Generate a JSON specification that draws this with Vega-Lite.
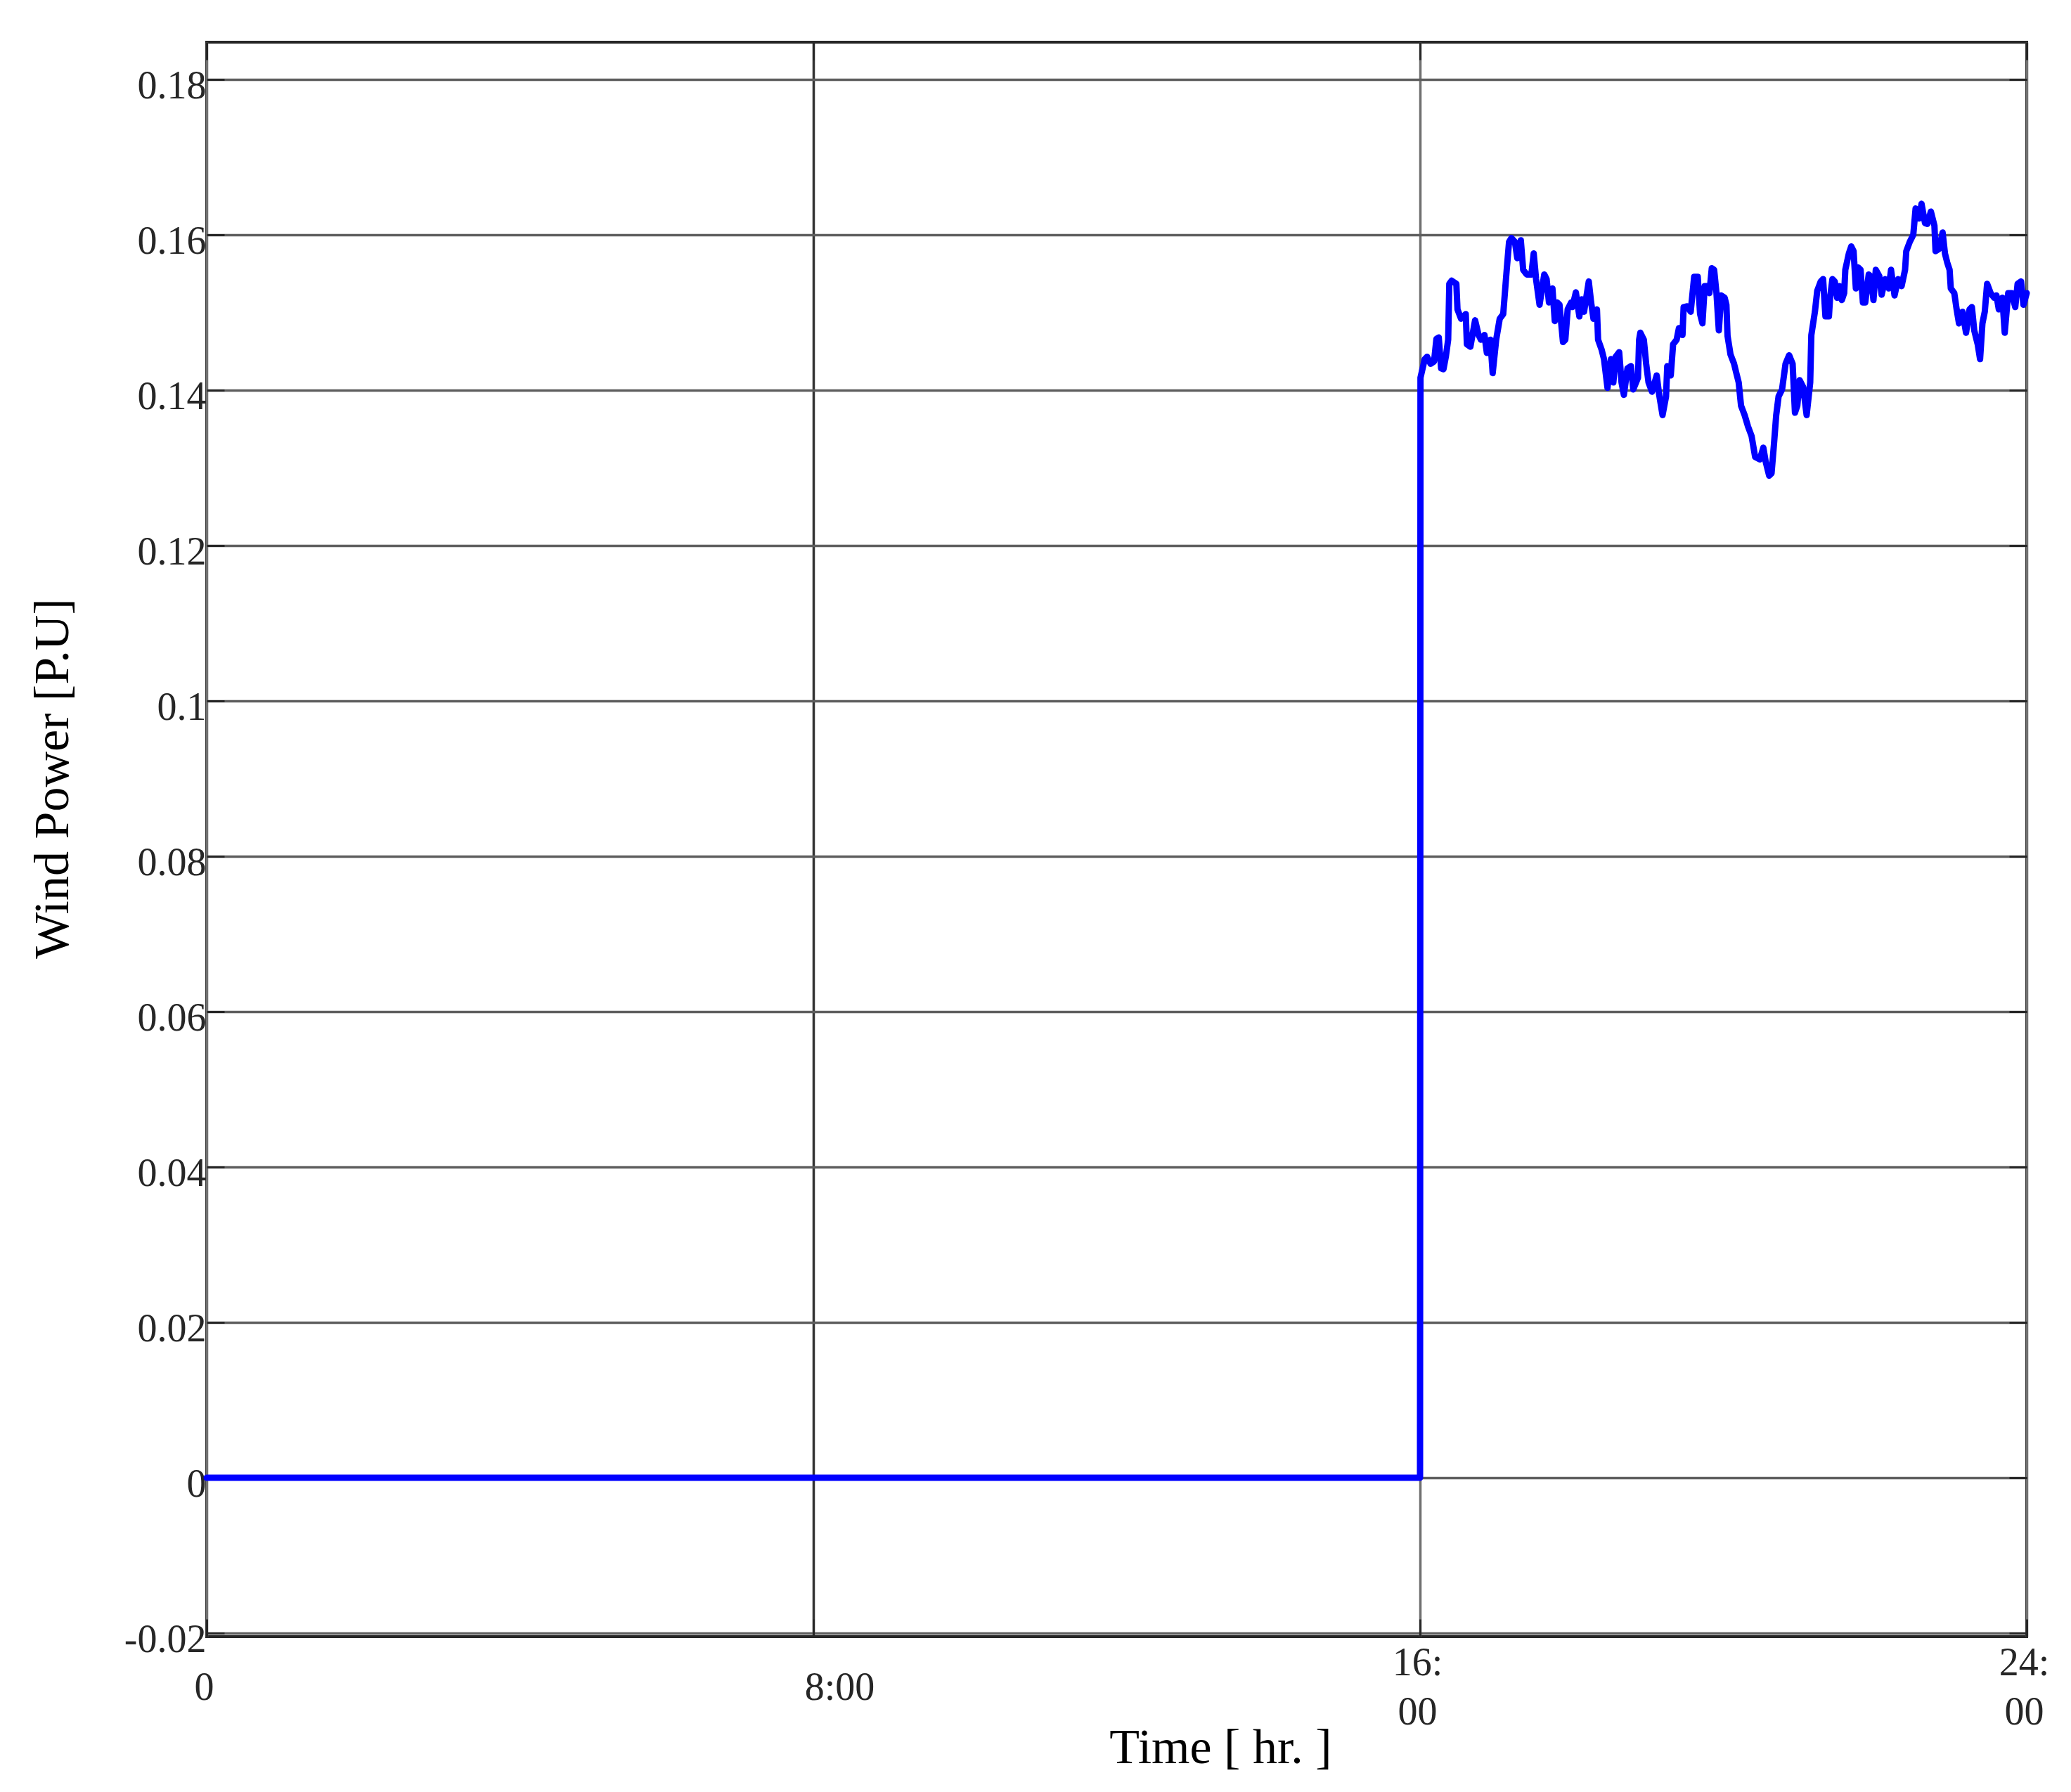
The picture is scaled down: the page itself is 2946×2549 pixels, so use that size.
{
  "$schema": "https://vega.github.io/schema/vega-lite/v6.json",
  "autosize": {"type": "none"},
  "width": 2589,
  "height": 2268,
  "padding": {"left": 294, "top": 60, "right": 63, "bottom": 221},
  "background": "white",
  "config": {"view": {"stroke": "#262626", "strokeWidth": 4}, "font": "Liberation Serif"},
  "data": {"values": [
    {"t": 0, "p": 0}, {"t": 16, "p": 0}, {"t": 16.006, "p": 0.1416},
    {"t": 16.062, "p": 0.1440}, {"t": 16.093, "p": 0.1443}, {"t": 16.139, "p": 0.1434}, {"t": 16.185, "p": 0.1437},
    {"t": 16.216, "p": 0.1466}, {"t": 16.247, "p": 0.1468}, {"t": 16.278, "p": 0.1428}, {"t": 16.309, "p": 0.1427},
    {"t": 16.340, "p": 0.1443}, {"t": 16.371, "p": 0.1465}, {"t": 16.386, "p": 0.1537}, {"t": 16.417, "p": 0.1541},
    {"t": 16.479, "p": 0.1537}, {"t": 16.494, "p": 0.1504}, {"t": 16.541, "p": 0.1492}, {"t": 16.603, "p": 0.1498},
    {"t": 16.618, "p": 0.1459}, {"t": 16.664, "p": 0.1456}, {"t": 16.726, "p": 0.1490}, {"t": 16.772, "p": 0.1471},
    {"t": 16.803, "p": 0.1465}, {"t": 16.850, "p": 0.1471}, {"t": 16.881, "p": 0.1448}, {"t": 16.927, "p": 0.1465},
    {"t": 16.958, "p": 0.1422}, {"t": 17.004, "p": 0.1465}, {"t": 17.051, "p": 0.1492}, {"t": 17.097, "p": 0.1498},
    {"t": 17.143, "p": 0.1555}, {"t": 17.174, "p": 0.1591}, {"t": 17.205, "p": 0.1596}, {"t": 17.251, "p": 0.1591},
    {"t": 17.282, "p": 0.1570}, {"t": 17.329, "p": 0.1593}, {"t": 17.360, "p": 0.1555}, {"t": 17.406, "p": 0.1549},
    {"t": 17.468, "p": 0.1549}, {"t": 17.499, "p": 0.1576}, {"t": 17.530, "p": 0.1543}, {"t": 17.576, "p": 0.1510},
    {"t": 17.638, "p": 0.1549}, {"t": 17.669, "p": 0.1543}, {"t": 17.700, "p": 0.1513}, {"t": 17.746, "p": 0.1531},
    {"t": 17.777, "p": 0.1489}, {"t": 17.808, "p": 0.1513}, {"t": 17.839, "p": 0.1510}, {"t": 17.885, "p": 0.1462},
    {"t": 17.916, "p": 0.1465}, {"t": 17.947, "p": 0.1504}, {"t": 17.993, "p": 0.1513},
    {"t": 18.009, "p": 0.1507}, {"t": 18.055, "p": 0.1526}, {"t": 18.101, "p": 0.1495}, {"t": 18.132, "p": 0.1517},
    {"t": 18.163, "p": 0.1501}, {"t": 18.225, "p": 0.1540}, {"t": 18.256, "p": 0.1513}, {"t": 18.287, "p": 0.1492},
    {"t": 18.333, "p": 0.1504}, {"t": 18.348, "p": 0.1465}, {"t": 18.395, "p": 0.1452}, {"t": 18.426, "p": 0.1440},
    {"t": 18.472, "p": 0.1403}, {"t": 18.518, "p": 0.1440}, {"t": 18.549, "p": 0.1410}, {"t": 18.580, "p": 0.1443},
    {"t": 18.626, "p": 0.1449}, {"t": 18.657, "p": 0.1410}, {"t": 18.688, "p": 0.1394}, {"t": 18.735, "p": 0.1428},
    {"t": 18.781, "p": 0.1431}, {"t": 18.812, "p": 0.1401}, {"t": 18.874, "p": 0.1416}, {"t": 18.889, "p": 0.1465},
    {"t": 18.905, "p": 0.1474}, {"t": 18.951, "p": 0.1465}, {"t": 18.982, "p": 0.1434}, {"t": 19.013, "p": 0.1410},
    {"t": 19.059, "p": 0.1398}, {"t": 19.121, "p": 0.1419}, {"t": 19.152, "p": 0.1395}, {"t": 19.198, "p": 0.1368},
    {"t": 19.244, "p": 0.1392}, {"t": 19.260, "p": 0.1431}, {"t": 19.306, "p": 0.1419}, {"t": 19.337, "p": 0.1459},
    {"t": 19.384, "p": 0.1465}, {"t": 19.414, "p": 0.1480}, {"t": 19.461, "p": 0.1471}, {"t": 19.476, "p": 0.1507},
    {"t": 19.523, "p": 0.1508}, {"t": 19.569, "p": 0.1501}, {"t": 19.615, "p": 0.1546}, {"t": 19.662, "p": 0.1546},
    {"t": 19.693, "p": 0.1498}, {"t": 19.724, "p": 0.1486}, {"t": 19.754, "p": 0.1534}, {"t": 19.801, "p": 0.1534},
    {"t": 19.816, "p": 0.1525}, {"t": 19.847, "p": 0.1557}, {"t": 19.878, "p": 0.1555}, {"t": 19.909, "p": 0.1525},
    {"t": 19.940, "p": 0.1477}, {"t": 19.971, "p": 0.1522}, {"t": 20.017, "p": 0.1519},
    {"t": 20.040, "p": 0.1510}, {"t": 20.055, "p": 0.1470}, {"t": 20.094, "p": 0.1446},
    {"t": 20.141, "p": 0.1434}, {"t": 20.171, "p": 0.1422}, {"t": 20.202, "p": 0.1410}, {"t": 20.233, "p": 0.1380},
    {"t": 20.280, "p": 0.1368}, {"t": 20.326, "p": 0.1353}, {"t": 20.372, "p": 0.1341}, {"t": 20.419, "p": 0.1314},
    {"t": 20.481, "p": 0.1311}, {"t": 20.527, "p": 0.1326}, {"t": 20.558, "p": 0.1308}, {"t": 20.604, "p": 0.1290},
    {"t": 20.635, "p": 0.1293}, {"t": 20.666, "p": 0.1329}, {"t": 20.697, "p": 0.1368}, {"t": 20.728, "p": 0.1392},
    {"t": 20.774, "p": 0.1401}, {"t": 20.820, "p": 0.1434}, {"t": 20.867, "p": 0.1445}, {"t": 20.913, "p": 0.1434},
    {"t": 20.944, "p": 0.1371}, {"t": 20.975, "p": 0.1380}, {"t": 21.006, "p": 0.1413}, {"t": 21.052, "p": 0.1404},
    {"t": 21.098, "p": 0.1368}, {"t": 21.145, "p": 0.1410}, {"t": 21.160, "p": 0.1471}, {"t": 21.207, "p": 0.1501},
    {"t": 21.238, "p": 0.1528}, {"t": 21.284, "p": 0.1540}, {"t": 21.315, "p": 0.1543}, {"t": 21.346, "p": 0.1495},
    {"t": 21.392, "p": 0.1495}, {"t": 21.407, "p": 0.1519}, {"t": 21.438, "p": 0.1543}, {"t": 21.469, "p": 0.1540},
    {"t": 21.500, "p": 0.1519}, {"t": 21.531, "p": 0.1534}, {"t": 21.562, "p": 0.1516}, {"t": 21.593, "p": 0.1525},
    {"t": 21.608, "p": 0.1555}, {"t": 21.655, "p": 0.1576}, {"t": 21.686, "p": 0.1585}, {"t": 21.717, "p": 0.1579},
    {"t": 21.747, "p": 0.1531}, {"t": 21.778, "p": 0.1558}, {"t": 21.809, "p": 0.1555}, {"t": 21.840, "p": 0.1513},
    {"t": 21.871, "p": 0.1513}, {"t": 21.917, "p": 0.1549}, {"t": 21.948, "p": 0.1546}, {"t": 21.979, "p": 0.1516},
    {"t": 22.010, "p": 0.1555}, {"t": 22.056, "p": 0.1547}, {"t": 22.087, "p": 0.1523},
    {"t": 22.134, "p": 0.1543}, {"t": 22.180, "p": 0.1531}, {"t": 22.211, "p": 0.1555}, {"t": 22.257, "p": 0.1522},
    {"t": 22.304, "p": 0.1543}, {"t": 22.350, "p": 0.1534}, {"t": 22.396, "p": 0.1555}, {"t": 22.412, "p": 0.1579},
    {"t": 22.458, "p": 0.1591}, {"t": 22.504, "p": 0.1600}, {"t": 22.535, "p": 0.1634}, {"t": 22.582, "p": 0.1621},
    {"t": 22.613, "p": 0.1640}, {"t": 22.659, "p": 0.1615}, {"t": 22.690, "p": 0.1614}, {"t": 22.736, "p": 0.1630},
    {"t": 22.783, "p": 0.1612}, {"t": 22.798, "p": 0.1579}, {"t": 22.844, "p": 0.1582}, {"t": 22.891, "p": 0.1603},
    {"t": 22.922, "p": 0.1576}, {"t": 22.953, "p": 0.1564}, {"t": 22.983, "p": 0.1555}, {"t": 22.999, "p": 0.1531},
    {"t": 23.045, "p": 0.1525}, {"t": 23.076, "p": 0.1504}, {"t": 23.107, "p": 0.1486}, {"t": 23.153, "p": 0.1501},
    {"t": 23.200, "p": 0.1474}, {"t": 23.246, "p": 0.1504}, {"t": 23.277, "p": 0.1507}, {"t": 23.308, "p": 0.1477},
    {"t": 23.354, "p": 0.1459}, {"t": 23.385, "p": 0.1440}, {"t": 23.416, "p": 0.1486}, {"t": 23.447, "p": 0.1501},
    {"t": 23.478, "p": 0.1537}, {"t": 23.524, "p": 0.1525}, {"t": 23.571, "p": 0.1519}, {"t": 23.601, "p": 0.1522},
    {"t": 23.632, "p": 0.1504}, {"t": 23.679, "p": 0.1519}, {"t": 23.710, "p": 0.1474}, {"t": 23.756, "p": 0.1525},
    {"t": 23.802, "p": 0.1525}, {"t": 23.849, "p": 0.1507}, {"t": 23.880, "p": 0.1537}, {"t": 23.926, "p": 0.1540},
    {"t": 23.957, "p": 0.1510}, {"t": 24.0, "p": 0.1525}
  ]},
  "layer": [
    {
      "mark": {"type": "line", "color": "#0000ff", "strokeWidth": 9, "strokeJoin": "round", "strokeCap": "round"},
      "encoding": {
        "x": {
          "field": "t", "type": "quantitative",
          "scale": {"domain": [0, 24], "nice": false, "zero": false},
          "axis": {
            "orient": "bottom", "values": [0, 8, 16, 24], "domain": false,
            "grid": true, "gridColor": {"condition": {"test": "datum.value == 8", "value": "#333333"}, "value": "#707070"}, "gridWidth": 3.5,
            "ticks": true, "tickSize": -25, "tickColor": "#262626", "tickWidth": 3,
            "labelExpr": "datum.value == 16 ? ['16:', '00'] : datum.value == 24 ? ['24:', '00'] : datum.value == 8 ? '8:00' : '0'",
            "labelFont": "Liberation Serif", "labelFontSize": 56, "labelColor": "#262626",
            "labelBaseline": "middle", "labelAlign": "center", "labelLineHeight": 70,
            "labelPadding": {"condition": {"test": "datum.value >= 16", "value": 62}, "value": 97},
            "labelFlush": false, "labelOverlap": false, "labelBound": false,
            "labelOffset": {"condition": {"test": "datum.value == 8", "value": 37}, "value": -4},
            "title": "Time [ hr. ]", "titleFont": "Liberation Serif", "titleFontSize": 70, "titleFontWeight": "normal",
            "titleColor": "#000000", "titleX": 1442, "titleY": 179, "titleAlign": "center", "titleBaseline": "alphabetic"
          }
        },
        "y": {
          "field": "p", "type": "quantitative",
          "scale": {"domain": [-0.02045, 0.1848], "nice": false, "zero": false},
          "axis": {
            "orient": "left", "values": [-0.02, 0, 0.02, 0.04, 0.06, 0.08, 0.1, 0.12, 0.14, 0.16, 0.18], "domain": false,
            "grid": true, "gridColor": "#5e5e5e", "gridWidth": 3.5,
            "ticks": true, "tickSize": -25, "tickColor": "#262626", "tickWidth": 3,
            "labelExpr": "toString(round(datum.value * 100) / 100)",
            "labelFont": "Liberation Serif", "labelFontSize": 56, "labelColor": "#262626",
            "labelBaseline": "middle", "labelAlign": "right", "labelPadding": 26, "labelOffset": 9,
            "labelOverlap": false, "labelBound": false, "labelFlush": false,
            "title": "Wind Power [P.U]", "titleFont": "Liberation Serif", "titleFontSize": 70, "titleFontWeight": "normal",
            "titleColor": "#000000", "titleAngle": -90, "titleX": -219, "titleY": 1047, "titleAlign": "center", "titleBaseline": "middle"
          }
        }
      }
    },
    {
      "mark": {"type": "line", "opacity": 0},
      "encoding": {
        "x": {
          "field": "t", "type": "quantitative",
          "scale": {"domain": [0, 24], "nice": false, "zero": false},
          "axis": {"orient": "top", "values": [0, 8, 16, 24], "domain": false, "grid": false, "labels": false,
                   "ticks": true, "tickSize": -25, "tickColor": "#262626", "tickWidth": 3, "title": null}
        },
        "y": {
          "field": "p", "type": "quantitative",
          "scale": {"domain": [-0.02045, 0.1848], "nice": false, "zero": false},
          "axis": {"orient": "right", "values": [-0.02, 0, 0.02, 0.04, 0.06, 0.08, 0.1, 0.12, 0.14, 0.16, 0.18], "domain": false, "grid": false, "labels": false,
                   "ticks": true, "tickSize": -25, "tickColor": "#262626", "tickWidth": 3, "title": null}
        }
      }
    }
  ],
  "resolve": {"axis": {"x": "independent", "y": "independent"}}
}
